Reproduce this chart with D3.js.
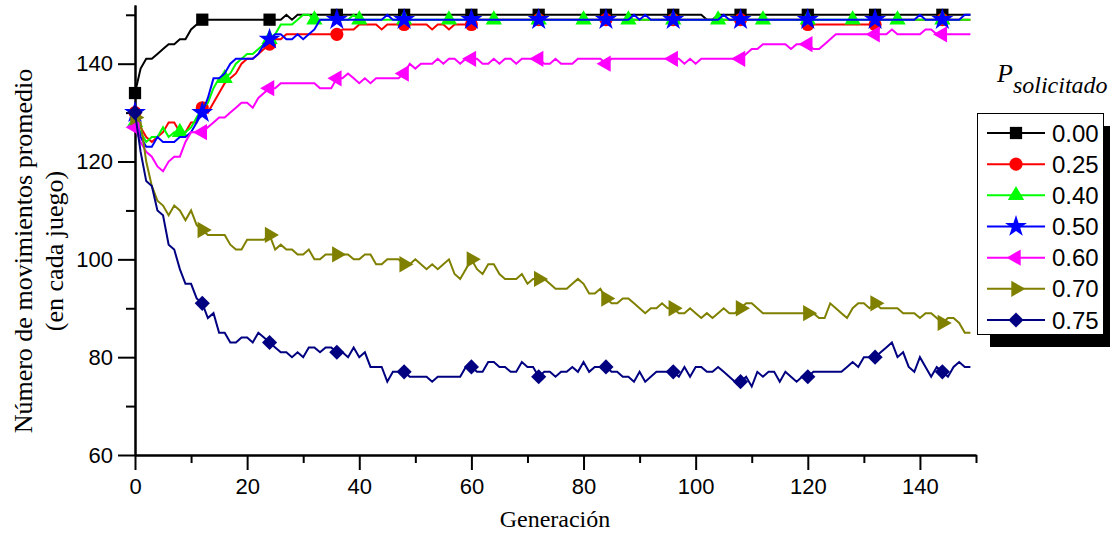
<!DOCTYPE html>
<html>
<head>
<meta charset="utf-8">
<script src="https://cdn.jsdelivr.net/npm/d3@7"></script>
<style>
  body { margin: 0; background: #fff; }
  svg { display: block; }
</style>
</head>
<body>
<svg id="chart" width="1110" height="533"></svg>
<script>
// legend labels (P solicitado) and series styles
const labels = ['0.00', '0.25', '0.40', '0.50', '0.60', '0.70', '0.75'];
const colors = ['#000000', '#ff0000', '#00ff00', '#0000ff', '#ff00ff', '#808000', '#000080'];
const shapes = ['square', 'circle', 'triangle', 'star', 'triLeft', 'triRight', 'diamond'];
const markEvery = [12, 12, 8, 12, 12, 12, 12];

// average moves per game, one value per generation (0..149)
const p000 = [
  134,139,141,141,142,143,144,144,145,145, 147,148,149,149,149,149,149,149,149,149,
  149,149,149,149,149,149,149,150,149,150, 150,150,150,150,150,150,150,150,150,150,
  150,150,150,150,150,150,150,150,150,150, 150,150,150,150,150,150,150,150,150,150,
  150,150,150,150,150,150,150,150,150,150, 150,150,150,150,150,150,150,150,150,150,
  150,150,150,150,150,150,150,150,150,150, 150,150,150,150,150,150,150,150,150,150,
  150,150,149,149,150,150,150,150,150,150, 150,150,150,150,150,150,150,150,150,150,
  150,150,150,150,150,150,150,150,150,150, 150,150,150,150,150,150,150,150,150,150,
  150,150,150,150,150,150,150,150,150,150
];
const p025 = [
  130,127,125,124,125,126,128,128,126,126, 128,128,131,130,132,134,136,137,138,140,
  141,141,142,143,144,145,145,146,146,146, 146,146,146,146,146,146,146,147,147,147,
  148,148,148,148,147,148,148,148,148,148, 148,148,148,147,148,148,147,148,148,148,
  148,149,149,149,149,149,149,149,149,149, 149,149,149,149,149,149,149,149,149,149,
  149,149,149,149,149,149,149,149,149,149, 149,149,149,149,149,149,149,149,149,149,
  149,149,149,149,149,149,149,149,149,149, 149,149,149,149,149,149,149,149,149,149,
  148,148,148,148,148,148,148,148,148,148, 148,148,148,149,149,149,149,149,149,149,
  149,149,149,149,149,149,149,149,149,149
];
const p040 = [
  128,126,124,125,125,127,125,126,126,126, 127,129,131,132,135,137,137,138,140,141,
  142,142,143,144,145,146,148,148,148,149, 150,150,149,149,149,149,149,149,149,150,
  149,149,149,149,149,149,149,149,149,149, 149,149,149,149,149,149,149,149,149,149,
  149,149,149,149,149,149,149,149,149,149, 149,149,149,149,149,149,149,149,149,149,
  149,149,149,149,149,149,149,149,149,149, 149,149,149,149,149,149,149,149,149,149,
  149,149,149,149,149,149,149,149,149,149, 149,149,149,149,149,149,149,149,149,149,
  149,149,149,149,149,149,149,149,149,149, 149,149,149,149,149,149,149,149,149,149,
  149,149,149,149,149,149,149,149,149,149
];
const p050 = [
  130,125,123,123,125,124,124,124,125,125, 126,128,130,133,137,137,138,140,141,141,
  141,141,142,144,145,146,146,145,145,146, 145,146,147,149,149,149,149,149,149,149,
  149,149,149,149,149,150,149,149,149,149, 149,149,149,149,149,149,149,149,149,149,
  149,149,149,149,149,149,149,149,149,149, 149,149,149,149,149,149,149,149,149,149,
  149,149,149,149,149,149,149,149,149,150, 149,150,149,149,149,149,149,149,149,149,
  149,149,149,149,149,150,149,149,149,149, 149,149,149,149,149,149,149,149,149,149,
  149,149,149,149,149,149,149,149,149,149, 149,149,149,149,149,149,149,149,149,149,
  150,149,149,149,149,149,149,149,150,150
];
const p060 = [
  127,124,122,121,119,118,120,121,121,124, 126,126,126,127,128,129,129,130,131,132,
  132,131,133,134,135,135,136,136,136,136, 136,136,136,135,135,135,137,137,138,137,
  136,137,136,137,137,137,137,137,138,140, 139,140,140,140,141,140,141,141,140,141,
  141,141,140,140,141,140,141,141,140,141, 141,141,141,140,140,141,140,140,140,141,
  141,141,141,141,140,141,141,141,141,141, 141,141,141,141,141,141,141,141,140,141,
  140,141,141,141,141,141,141,141,141,142, 143,143,144,144,144,144,144,143,144,144,
  144,143,143,144,145,146,146,146,146,146, 146,146,146,146,146,147,146,146,146,146,
  146,147,147,146,146,146,146,146,146,146
];
const p070 = [
  129,128,120,115,112,111,109,111,110,108, 110,107,106,105,105,105,105,103,102,102,
  104,104,104,104,105,102,103,102,102,101, 101,102,100,100,101,101,101,101,101,100,
  100,101,101,99,99,100,100,100,99,99, 100,99,98,99,98,99,100,97,96,98,
  100,98,97,99,99,97,96,96,96,97, 95,96,96,96,95,94,94,94,95,96,
  95,93,93,94,92,91,91,92,92,91, 90,89,90,90,91,90,90,89,89,90,
  89,88,89,88,89,90,89,89,90,91, 91,90,89,89,89,89,89,89,89,89,
  89,89,88,88,91,90,89,88,90,91, 91,90,91,90,90,90,90,89,89,89,
  88,89,89,88,87,88,88,87,85,85
];
const p075 = [
  130,122,116,115,110,109,103,102,98,95, 95,92,91,88,89,85,85,83,83,84,
  84,83,85,84,83,82,81,81,80,81, 80,82,82,81,82,82,81,81,80,82,
  80,81,78,78,78,75,77,77,77,76, 76,76,76,75,76,76,76,76,76,78,
  78,77,77,79,79,78,78,77,77,79, 78,78,76,77,77,76,77,77,78,77,
  79,77,78,78,78,77,77,76,76,75, 77,75,76,77,77,77,77,76,78,76,
  78,78,77,77,78,77,76,75,75,76, 74,77,76,77,77,75,77,76,75,76,
  76,77,77,77,77,77,77,78,79,78, 80,80,80,81,82,83,80,81,78,77,
  80,78,76,78,77,76,78,79,78,78
];
const values = [p000, p025, p040, p050, p060, p070, p075];

// axis ticks
const xMajor = [0, 20, 40, 60, 80, 100, 120, 140];
const xMinor = [10, 30, 50, 70, 90, 110, 130, 150];
const yMajor = [60, 80, 100, 120, 140];
const yMinor = [70, 90, 110, 130, 150];

const svg = d3.select('#chart');
const sans = "Arial, 'Liberation Sans', sans-serif";
const serif = "'Times New Roman', 'Liberation Serif', serif";

const x = d3.scaleLinear().domain([0, 150]).range([135, 976]);
const y = d3.scaleLinear().domain([60, 152]).range([455, 5]);

// axes
function styleAxis(g) {
  g.selectAll('.domain').attr('stroke', '#000').attr('stroke-width', 2);
  g.selectAll('.tick line').attr('stroke', '#000').attr('stroke-width', 2);
  g.selectAll('.tick text').attr('fill', '#000').style('font-family', sans).style('font-size', '22px');
}

svg.append('g').attr('transform', 'translate(0,455)')
  .call(d3.axisBottom(x).tickValues(xMinor).tickSize(8).tickSizeOuter(0).tickFormat(''))
  .call(styleAxis);
svg.append('g').attr('transform', 'translate(0,455)')
  .call(d3.axisBottom(x).tickValues(xMajor).tickSize(15).tickSizeOuter(0).tickPadding(8))
  .call(styleAxis);
svg.append('g').attr('transform', 'translate(135,0)')
  .call(d3.axisLeft(y).tickValues(yMinor).tickSize(9).tickSizeOuter(0).tickFormat(''))
  .call(styleAxis);
svg.append('g').attr('transform', 'translate(135,0)')
  .call(d3.axisLeft(y).tickValues(yMajor).tickSize(17).tickSizeOuter(0).tickPadding(5))
  .call(styleAxis);

// axis titles
svg.append('text')
  .attr('x', 555).attr('y', 527)
  .attr('text-anchor', 'middle')
  .style('font-family', serif).style('font-size', '24px')
  .text('Generación');

const yTitle = svg.append('g').attr('transform', 'translate(0,251) rotate(-90)');
yTitle.append('text').attr('x', 0).attr('y', 32)
  .attr('text-anchor', 'middle')
  .style('font-family', serif).style('font-size', '26px')
  .text('Número de movimientos promedio');
yTitle.append('text').attr('x', 0).attr('y', 63)
  .attr('text-anchor', 'middle')
  .style('font-family', serif).style('font-size', '26px')
  .text('(en cada juego)');

// marker path generator
function markerPath(shape) {
  if (shape === 'square') return { d: d3.symbol(d3.symbolSquare, 150)(), rot: 0 };
  if (shape === 'circle') return { d: d3.symbol(d3.symbolCircle, 135)(), rot: 0 };
  if (shape === 'triangle') return { d: d3.symbol(d3.symbolTriangle, 115)(), rot: 0 };
  if (shape === 'star') return { d: d3.symbol(d3.symbolStar, 150)(), rot: 0 };
  if (shape === 'triLeft') return { d: d3.symbol(d3.symbolTriangle, 115)(), rot: -90 };
  if (shape === 'triRight') return { d: d3.symbol(d3.symbolTriangle, 115)(), rot: 90 };
  return { d: d3.symbol(d3.symbolSquare, 115)(), rot: 45 };
}

const line = d3.line()
  .x((d, i) => x(i))
  .y(d => y(d));

// series, drawn in legend order
values.forEach((vals, k) => {
  const g = svg.append('g');
  g.append('path')
    .attr('d', line(vals))
    .attr('fill', 'none')
    .attr('stroke', colors[k])
    .attr('stroke-width', 2);
  const m = markerPath(shapes[k]);
  g.selectAll('path.mk')
    .data(vals.map((v, i) => [i, v]).filter(d => d[0] % markEvery[k] === 0))
    .enter().append('path')
    .attr('class', 'mk')
    .attr('d', m.d)
    .attr('transform', d => `translate(${x(d[0])},${y(d[1])}) rotate(${m.rot})`)
    .attr('fill', colors[k]);
});

// legend
svg.append('text')
  .attr('x', 997).attr('y', 82)
  .style('font-family', serif).style('font-style', 'italic').style('font-size', '26px')
  .text('P')
  .append('tspan')
  .attr('dy', 11)
  .style('font-size', '24px')
  .text('solicitado');

svg.append('rect').attr('x', 990).attr('y', 126).attr('width', 126).attr('height', 221).attr('fill', '#000');
svg.append('rect').attr('x', 977.5).attr('y', 113.5).attr('width', 126).attr('height', 221)
  .attr('fill', '#fff').attr('stroke', '#000').attr('stroke-width', 1);

const legRow = d3.scaleLinear().domain([0, 6]).range([133, 320]);
labels.forEach((lab, k) => {
  const ly = legRow(k);
  svg.append('line').attr('x1', 987).attr('x2', 1045).attr('y1', ly).attr('y2', ly)
    .attr('stroke', colors[k]).attr('stroke-width', 2);
  const m = markerPath(shapes[k]);
  svg.append('path').attr('d', m.d)
    .attr('transform', `translate(1016,${ly}) rotate(${m.rot})`)
    .attr('fill', colors[k]);
  svg.append('text').attr('x', 1052).attr('y', ly + 8.5)
    .style('font-family', sans).style('font-size', '24px')
    .text(lab);
});
</script>
</body>
</html>
